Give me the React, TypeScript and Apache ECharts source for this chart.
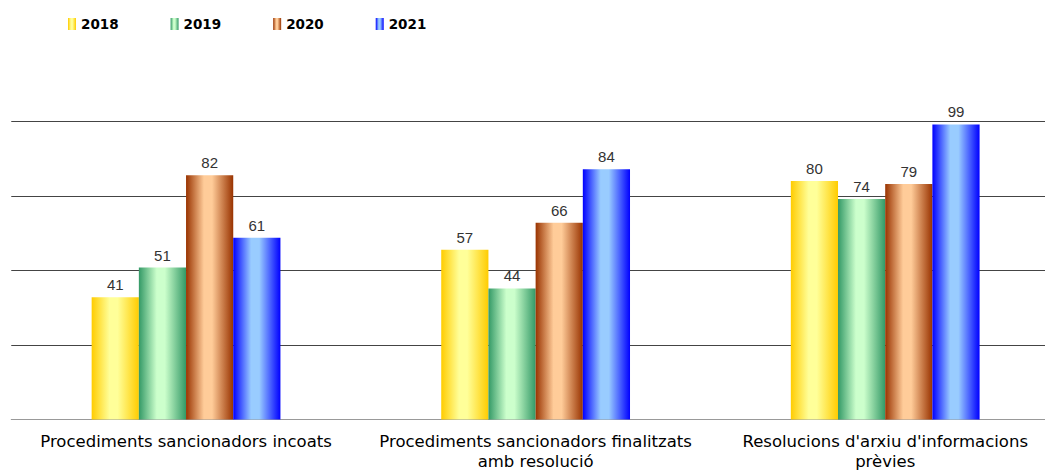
import React, { useEffect, useRef } from "react";
import * as echarts from "echarts";

const categories = [
  "Procediments sancionadors incoats",
  "Procediments sancionadors finalitzats\namb resolució",
  "Resolucions d'arxiu d'informacions\nprèvies",
];
const years = ["2018", "2019", "2020", "2021"];
const values2018 = [41, 57, 80];
const values2019 = [51, 44, 74];
const values2020 = [82, 66, 79];
const values2021 = [61, 84, 99];
const seriesValues = [values2018, values2019, values2020, values2021];
const darkColors = ["#FFCC00", "#339966", "#993300", "#0000FF"];
const lightColors = ["#FFFF99", "#CCFFCC", "#FFCC99", "#99CCFF"];

const FONT = "Liberation Sans, Arial, sans-serif";
const WIDE = "DejaVu Sans, sans-serif";

function grad(i: number) {
  return new echarts.graphic.LinearGradient(0, 0, 1, 0, [
    { offset: 0, color: darkColors[i] },
    { offset: 0.38, color: lightColors[i] },
    { offset: 0.55, color: lightColors[i] },
    { offset: 1, color: darkColors[i] },
  ]);
}

export default function App() {
  const ref = useRef<HTMLDivElement>(null);
  useEffect(() => {
    if (!ref.current) return;
    const chart = echarts.init(ref.current, undefined, { renderer: "svg" });
    chart.setOption({
      animation: false,
      backgroundColor: "#ffffff",
      legend: {
        left: 68,
        top: 17,
        padding: 0,
        itemWidth: 8,
        itemHeight: 12,
        itemGap: 52,
        itemTextGap: 7,
        icon: "rect",
        textStyle: { fontFamily: WIDE, fontSize: 13.5, fontWeight: "bold", color: "#000" },
        data: years,
      },
      grid: { left: 11.25, right: 0, top: 121.5, bottom: 52.5, containLabel: false },
      xAxis: {
        type: "category",
        data: categories,
        axisTick: { show: false },
        axisLine: { show: true, lineStyle: { color: "#999", width: 1 } },
        axisLabel: {
          fontFamily: WIDE,
          fontSize: 16.5,
          color: "#000",
          margin: 12,
          lineHeight: 20,
          interval: 0,
        },
      },
      yAxis: {
        type: "value",
        min: 0,
        max: 100,
        interval: 25,
        axisLabel: { show: false },
        axisLine: { show: false },
        axisTick: { show: false },
        splitLine: { show: true, lineStyle: { color: "#444", width: 1 } },
      },
      series: years.map((y, i) => ({
        name: y,
        type: "bar",
        data: seriesValues[i],
        barGap: "0%",
        barCategoryGap: "46%",
        itemStyle: { color: grad(i) },
        label: {
          show: true,
          position: "top",
          distance: 5,
          fontFamily: FONT,
          fontSize: 15,
          color: "#333",
        },
      })),
    });
    return () => chart.dispose();
  }, []);
  return (
    <div
      style={{
        position: "absolute",
        left: 0,
        top: 0,
        width: 1045,
        height: 472,
        overflow: "hidden",
        background: "#fff",
      }}
    >
      <div ref={ref} style={{ width: 1060, height: 472 }} />
    </div>
  );
}
